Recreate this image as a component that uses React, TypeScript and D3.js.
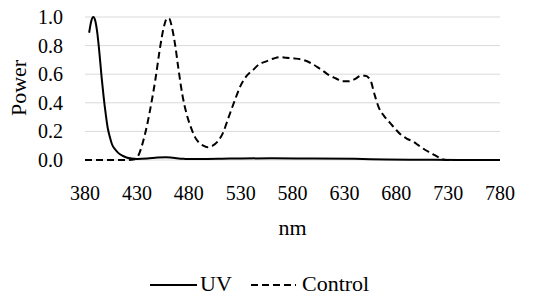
import React from "react";
import * as d3 from "d3";

// spectra (nm, relative power)
const uvNm = [384, 386, 388, 390, 392, 394, 396, 398, 400, 402, 404, 406, 409, 412, 416, 420, 425, 430, 440, 450, 458, 465, 475, 490, 520, 560, 600, 640, 670, 700, 740, 780];
const uvPower = [0.89, 0.97, 1.0, 0.97, 0.88, 0.74, 0.58, 0.44, 0.32, 0.22, 0.16, 0.11, 0.075, 0.05, 0.03, 0.018, 0.01, 0.007, 0.01, 0.018, 0.02, 0.015, 0.008, 0.007, 0.01, 0.012, 0.01, 0.008, 0.004, 0.002, 0, 0];

const controlNm = [380, 420, 428, 432, 436, 440, 444, 448, 452, 456, 459, 461, 464, 467, 470, 474, 478, 482, 486, 490, 494, 498, 503, 508, 513, 518, 524, 530, 536, 542, 548, 555, 562, 568, 574, 582, 590, 597, 604, 610, 616, 622, 628, 634, 640, 646, 650, 655, 659, 663, 668, 674, 680, 684, 690, 696, 702, 708, 713, 718, 723, 728, 780];
const controlPower = [0, 0, 0.005, 0.04, 0.13, 0.25, 0.4, 0.57, 0.77, 0.93, 0.99, 0.99, 0.92, 0.8, 0.64, 0.45, 0.32, 0.23, 0.16, 0.12, 0.1, 0.09, 0.1, 0.13, 0.19, 0.29, 0.41, 0.52, 0.59, 0.63, 0.67, 0.69, 0.71, 0.72, 0.715, 0.71, 0.7, 0.68, 0.65, 0.62, 0.59, 0.57, 0.55, 0.55, 0.565, 0.59, 0.59, 0.56, 0.46, 0.37, 0.31, 0.26, 0.21, 0.18, 0.15, 0.13, 0.1, 0.07, 0.05, 0.03, 0.01, 0, 0];

const xTicks = [380, 430, 480, 530, 580, 630, 680, 730, 780];
const yTicks = [0, 0.2, 0.4, 0.6, 0.8, 1.0];

const width = 550;
const height = 304;
const margin = { top: 17, right: 50, bottom: 144, left: 85 };

const App = () => {
  const x = d3.scaleLinear().domain([380, 780]).range([margin.left, width - margin.right]);
  const y = d3.scaleLinear().domain([0, 1]).range([height - margin.bottom, margin.top]);

  const line = d3
    .line<[number, number]>()
    .x((d) => x(d[0]))
    .y((d) => y(d[1]))
    .curve(d3.curveMonotoneX);

  const uv = uvNm.map((n, i) => [n, uvPower[i]] as [number, number]);
  const control = controlNm.map((n, i) => [n, controlPower[i]] as [number, number]);
  const txt = { fontFamily: "Liberation Serif", fill: "#000" };

  return (
    <svg width={width} height={height} style={{ position: "absolute", left: 0, top: 0, background: "#fff" }}>
      {yTicks.map((t) => (
        <line key={"g" + t} x1={x(380)} x2={x(780)} y1={y(t)} y2={y(t)} stroke="#d9d9d9" strokeWidth={1} />
      ))}
      {yTicks.map((t) => (
        <text key={"y" + t} x={63} y={y(t) + 7} textAnchor="end" fontSize={20} style={txt}>
          {d3.format(".1f")(t)}
        </text>
      ))}
      {xTicks.map((t) => (
        <text key={"x" + t} x={x(t)} y={200} textAnchor="middle" fontSize={20} style={txt}>
          {t}
        </text>
      ))}
      <text transform="translate(26,88) rotate(-90)" textAnchor="middle" fontSize={22} style={txt}>
        Power
      </text>
      <text x={(x(380) + x(780)) / 2} y={235} textAnchor="middle" fontSize={22} style={txt}>
        nm
      </text>

      <path d={line(control) ?? ""} fill="none" stroke="#000" strokeWidth={2} strokeDasharray="7,4" />
      <path d={line(uv) ?? ""} fill="none" stroke="#000" strokeWidth={2} />

      {/* legend */}
      <line x1={150} x2={197} y1={285} y2={285} stroke="#000" strokeWidth={2} />
      <text x={200} y={291} fontSize={22} style={txt}>UV</text>
      <line x1={251} x2={296} y1={285} y2={285} stroke="#000" strokeWidth={2} strokeDasharray="7,4" />
      <text x={302} y={291} fontSize={22} style={txt}>Control</text>
    </svg>
  );
};

export default App;
